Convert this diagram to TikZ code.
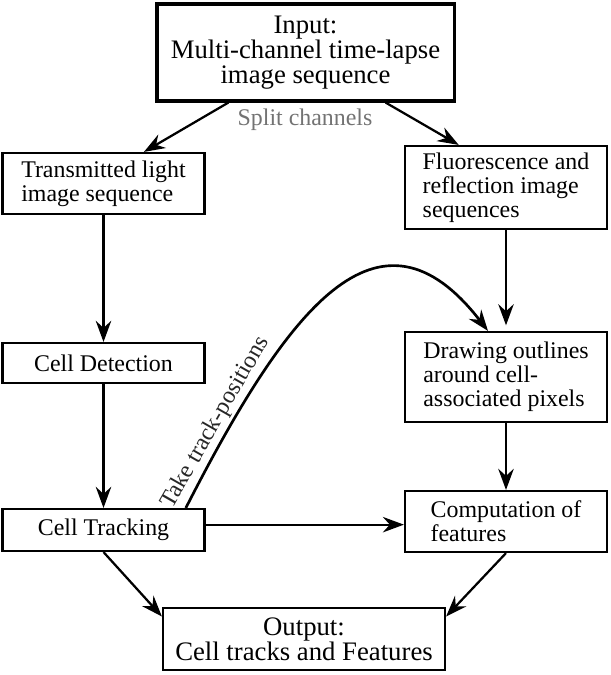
\documentclass[tikz,border=0pt]{standalone}
\usepackage{fontspec}
\setmainfont{Liberation Serif}
\usetikzlibrary{arrows.meta}

\begin{document}
\begin{tikzpicture}[x=0.025cm,y=-0.025cm,
        box/.style={shape=rectangle,draw=black,line width=1.5pt,align=left,inner sep=0pt,
            minimum width=5.05cm,font=\fontsize{17}{17}\selectfont},
        wide/.style={box,line width=2.2pt,align=center,font=\fontsize{19}{18}\selectfont},
        arr/.style={-{Stealth[length=15pt,width=11pt,inset=5pt]},line width=1.6pt},
        lbl/.style={font=\fontsize{17}{17}\selectfont}]
        \useasboundingbox (0,0) rectangle (610,675);
        \node[wide,minimum width=7.425cm,minimum height=2.425cm] (In) at (305.5,52.5){Input:\\Multi-channel time-lapse\\image sequence};
        \node[lbl,text=black!55,inner sep=0pt] (Sp) at (305,119.5){Split channels};
        \node[box,minimum height=1.525cm] (Tr) at (103.5,183.5){Transmitted light\\image sequence};
        \node[box,minimum height=2.075cm] (Fl) at (506,187.5){Fluorescence and\\reflection image\\sequences};
        \node[box,align=center,minimum height=1cm] (De) at (103.5,363){Cell Detection};
        \node[box,minimum height=2.25cm] (Dr) at (506,377){Drawing outlines\\around cell-\\associated pixels};
        \node[box,align=center,minimum height=1.05cm] (Tk) at (103.5,530){Cell Tracking};
        \node[box,minimum height=1.525cm] (Co) at (506,521.5){Computation of\\features};
        \node[wide,line width=1.5pt,minimum width=7.05cm,minimum height=1.55cm] (Out) at (304,639){Output:\\Cell tracks and Features};
        \path [arr](In.213) edge (Tr.38);
        \path [arr](In.328.6) edge (Fl.138);
        \path [arr](Tr) edge (De);
        \path [arr](De) edge (Tk);
        \path [arr](Fl) edge[shorten >=4pt] (Dr);
        \path [arr](Dr) edge (Co);
        \path [arr](Tk.3) edge (Tk.3 -| Co.west);
        \path [arr](Tk.south) edge (Out.171);
        \path [arr](Co.south) edge (Out.9);
        \draw [arr,line width=1.9pt](Tk.15) .. controls (287,310) and (378,189) .. ([xshift=-0.45cm]Dr.north)
            node[lbl,text=black!85,sloped,above,inner sep=1.5pt,pos=0.14]{Take track-positions};
    \end{tikzpicture}
\end{document}
